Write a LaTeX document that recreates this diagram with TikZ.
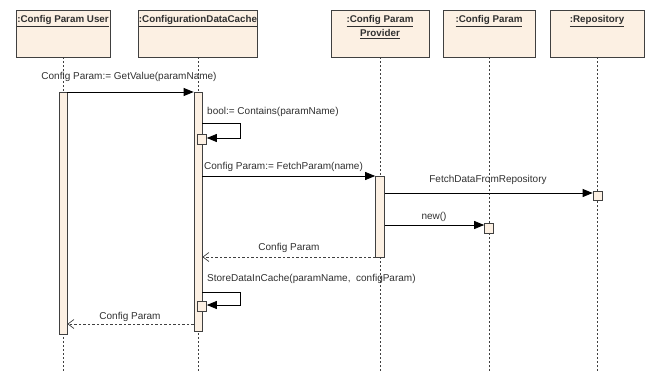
\documentclass[tikz,border=0pt]{standalone}
\usepackage{fontspec}
\setmainfont{Liberation Sans}
\usetikzlibrary{arrows.meta}
\definecolor{cream}{HTML}{FCF0E3}
\definecolor{edge}{HTML}{404040}
\definecolor{txt}{HTML}{303030}
\tikzset{
  objbox/.style={draw=edge, line width=0.9pt, fill=cream, minimum height=47pt, inner sep=0pt},
  objtitle/.style={anchor=north, inner sep=0pt, font=\fontsize{9.8}{12}\selectfont\bfseries, text=txt, align=center},
  lifeline/.style={draw=edge, line width=0.7pt, dash pattern=on 2pt off 2pt},
  actbar/.style={draw=edge, line width=0.7pt, fill=cream, minimum width=8pt, inner sep=0pt, anchor=north},
  smallbox/.style={draw=edge, line width=0.7pt, fill=cream, minimum width=9pt, minimum height=10pt, inner sep=0pt, anchor=north},
  msg/.style={draw=black, line width=0.8pt, -{Triangle[length=10pt,width=8pt]}},
  ret/.style={draw=edge, line width=0.8pt, dash pattern=on 2.5pt off 2pt, -{Straight Barb[length=6pt,width=9pt,line width=0.7pt]}},
  lbl/.style={inner sep=0pt, font=\fontsize{10}{12}\selectfont, text=txt},
}
\begin{document}
\begin{tikzpicture}[x=1pt,y=-1pt]
\useasboundingbox (0,0) rectangle (647,372);
% object boxes
\node[objbox, minimum width=94pt] (u) at (63,33.5) {};
\node[objbox, minimum width=119pt] (c) at (198,33.5) {};
\node[objbox, minimum width=98pt] (p) at (380,33.5) {};
\node[objbox, minimum width=92pt] (cp) at (489,33.5) {};
\node[objbox, minimum width=94pt] (r) at (597,33.5) {};
\node[objtitle] (ut) at ([yshift=-6pt]u.north) {\underline{:Config Param User}};
\node[objtitle] (ct) at ([yshift=-6pt]c.north) {\underline{:ConfigurationDataCache}};
\node[objtitle] (pt) at ([yshift=-6pt]p.north) {\underline{:Config Param}\\[2pt]\underline{Provider}};
\node[objtitle] (cpt) at ([yshift=-6pt]cp.north) {\underline{:Config Param}};
\node[objtitle] (rt) at ([yshift=-6pt]r.north) {\underline{:Repository}};
% lifelines
\coordinate (ue) at (63,372);
\coordinate (ce) at (198,372);
\coordinate (pe) at (380,372);
\coordinate (cpe) at (489,372);
\coordinate (re) at (597,372);
\draw[lifeline] (u.south) -- (ue);
\draw[lifeline] (c.south) -- (ce);
\draw[lifeline] (p.south) -- (pe);
\draw[lifeline] (cp.south) -- (cpe);
\draw[lifeline] (r.south) -- (re);
% activation bars
\node[actbar, minimum height=242pt] (a1) at (63,92) {};
\node[actbar, minimum height=239pt] (a2) at (198,92) {};
\node[actbar, minimum width=9pt, minimum height=81pt] (a3) at (380,176) {};
\node[smallbox] (s1) at (202,134) {};
\node[smallbox] (s2) at (202,301) {};
\node[smallbox, minimum height=9pt] (rb) at (597.5,191) {};
\node[smallbox] (cb) at (489,223) {};
% messages
\draw[msg] (a1.east |- 0,92) -- (a2.west |- 0,92);
\node[lbl] (m1) at (129,77) {Config Param:= GetValue(paramName)};
\coordinate (k1) at (240,123);
\coordinate (k2) at (240,138);
\draw[msg] (a2.east |- k1) -- (k1) -- (k2) -- (s1.east |- k2);
\node[lbl, anchor=west] (m2) at (207,112) {bool:= Contains(paramName)};
\draw[msg] (a2.east |- 0,176) -- (a3.west |- 0,176);
\node[lbl, anchor=west] (m3) at (204,167) {Config Param:= FetchParam(name)};
\draw[msg] (a3.east |- 0,193) -- (rb.west |- 0,193);
\node[lbl] (m4) at (488,180) {FetchDataFromRepository};
\draw[msg] (a3.east |- 0,225) -- (cb.west |- 0,225);
\node[lbl] (m5) at (434,217) {new()};
\draw[ret] (a3.west |- 0,257) -- (a2.east |- 0,257);
\node[lbl] (m6) at (289,248) {Config Param};
\coordinate (k3) at (240,292);
\coordinate (k4) at (240,305);
\draw[msg] (a2.east |- k3) -- (k3) -- (k4) -- (s2.east |- k4);
\node[lbl, anchor=west] (m7) at (207,279) {StoreDataInCache(paramName,\ \ configParam)};
\draw[ret] (a2.west |- 0,324) -- (a1.east |- 0,324);
\node[lbl] (m8) at (130,317) {Config Param};
\end{tikzpicture}
\end{document}
